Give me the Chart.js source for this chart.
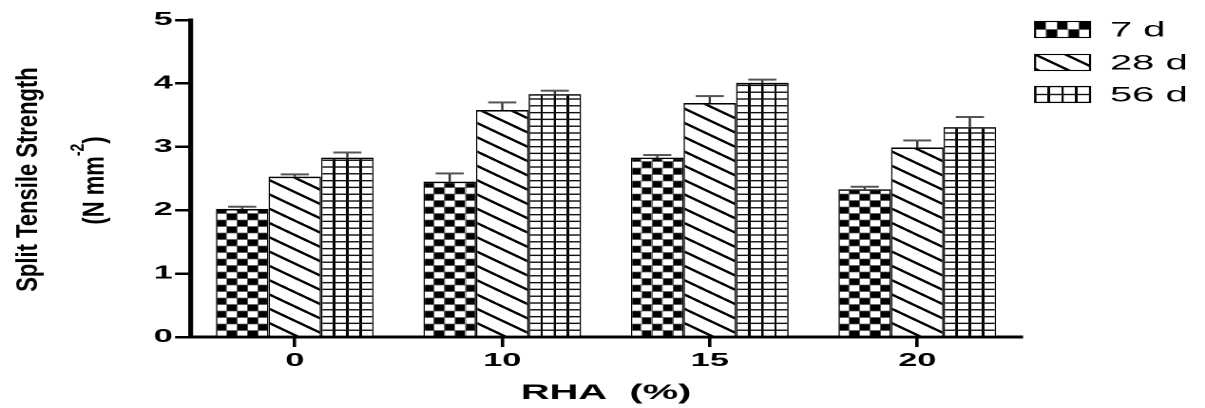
<!DOCTYPE html>
<html>
<head>
<meta charset="utf-8">
<script src="https://cdn.jsdelivr.net/npm/chart.js@4.4.1/dist/chart.umd.min.js"></script>
<style>
  html, body { margin: 0; padding: 0; background: #fff; overflow: hidden; }
  #wrap { width: 1205px; height: 408px; position: relative; overflow: hidden; }
  #c { position: absolute; left: 0; top: 0; transform-origin: 0 0; }
</style>
</head>
<body>
<div id="wrap"><canvas id="c" width="634" height="408"></canvas></div>
<script>
// ---- data ----
const categories = ['0', '10', '15', '20'];
const seriesNames = ['7 d', '28 d', '56 d'];
const values7d  = [2.02, 2.45, 2.83, 2.33];
const values28d = [2.53, 3.58, 3.69, 2.99];
const values56d = [2.83, 3.83, 4.01, 3.31];
const err7d  = [0.035, 0.13, 0.04, 0.04];
const err28d = [0.035, 0.12, 0.11, 0.11];
const err56d = [0.08, 0.055, 0.05, 0.16];
const yTicks = [0, 1, 2, 3, 4, 5];
const xTitle = 'RHA  (%)';
const yTitle = 'Split Tensile Strength';
const yUnit = '(N mm';
const yUnitExp = '-2';
const yUnitEnd = ')';

// ---- layout ----
const FONT = "'Liberation Sans', Arial, Helvetica, sans-serif";
const W = 634, H = 408;
const SX = 1205 / W;            // the drawing is widened horizontally
const CAT_PCT = 0.76;

const canvas = document.getElementById('c');
canvas.style.transform = 'scale(' + SX + ',1)';

// ---- fill patterns ----
function tileCanvas(w, h, paint) {
  const k = 4;
  const c = document.createElement('canvas');
  c.width = Math.max(1, Math.round(w * k * SX));
  c.height = Math.max(1, Math.round(h * k));
  const g = c.getContext('2d');
  g.scale(c.width / w, c.height / h);
  g.fillStyle = '#fff';
  g.fillRect(0, 0, w, h);
  paint(g, w, h);
  return c;
}
function paintCheck(g, w, h) {
  const cw = w / 2, ch = h / 2;
  g.fillStyle = '#000';
  g.fillRect(0.3, 0, cw - 0.6, ch);
  g.fillRect(cw + 0.3, ch, cw - 0.6, ch);
  g.fillStyle = '#555';
  g.fillRect(0, 0, 0.35, h);
  g.fillRect(cw - 0.175, 0, 0.35, h);
  g.fillRect(w - 0.175, 0, 0.175, h);
  g.fillRect(0, 0, w, 0.35);
  g.fillRect(0, ch - 0.35, w, 0.7);
  g.fillRect(0, h - 0.35, w, 0.35);
}
function paintHatch(g, w, h) {
  g.strokeStyle = '#000';
  g.lineWidth = 2.0;
  g.beginPath();
  [-h, 0, h].forEach(off => {
    g.moveTo(-w, off - h);
    g.lineTo(2 * w, off + 2 * h);
  });
  g.stroke();
}
function paintGrid(g, w, h) {
  const vw = 1.3, hw = 1.4;
  g.fillStyle = '#000';
  g.fillRect(0, 0, vw / 2, h);
  g.fillRect(w - vw / 2, 0, vw / 2, h);
  g.fillStyle = '#111';
  g.fillRect(0, 0, w, hw / 2);
  g.fillRect(0, h - hw / 2, w, hw / 2);
}
function makePattern(ctx, kind, barW, x0, y0, rowH) {
  let w, h, paint;
  if (kind === 'check') { w = barW / 5 * 2; h = (rowH || 6.5) * 2; paint = paintCheck; }
  else if (kind === 'hatch') { w = 16; h = 14.3; paint = paintHatch; }
  else { w = barW / 4; h = rowH || 6.8; paint = paintGrid; }
  const c = tileCanvas(w, h, paint);
  const p = ctx.createPattern(c, 'repeat');
  p.setTransform(new DOMMatrix().translate(x0, y0).scale(w / c.width, h / c.height));
  return p;
}
const kinds = ['check', 'hatch', 'grid'];

function barFill(kind) {
  return (context) => {
    const chart = context.chart;
    const xs = chart.scales.x;
    if (!xs || context.dataIndex === undefined || !chart.chartArea) return '#fff';
    const catW = xs.width / categories.length;
    const groupW = catW * CAT_PCT;
    const barW = groupW / seriesNames.length;
    const left = xs.getPixelForValue(context.dataIndex) - groupW / 2 + context.datasetIndex * barW;
    return makePattern(chart.ctx, kind, barW, left, chart.chartArea.bottom);
  };
}

// ---- error bars (upper whisker only) ----
const errorBars = {
  id: 'errorBars',
  afterDatasetsDraw(chart) {
    const ctx = chart.ctx, ys = chart.scales.y;
    ctx.save();
    chart.data.datasets.forEach((ds, d) => {
      const meta = chart.getDatasetMeta(d);
      meta.data.forEach((bar, i) => {
        const top = ys.getPixelForValue(ds.data[i] + ds.errorUp[i]);
        ctx.strokeStyle = '#333';
        ctx.lineWidth = 1.2;
        ctx.beginPath();
        ctx.moveTo(bar.x, bar.y);
        ctx.lineTo(bar.x, top);
        ctx.stroke();
        ctx.strokeStyle = '#555';
        ctx.lineWidth = 2;
        ctx.beginPath();
        ctx.moveTo(bar.x - 7.4, top);
        ctx.lineTo(bar.x + 7.4, top);
        ctx.stroke();
      });
    });
    ctx.restore();
  }
};

// ---- y axis title (two lines, superscript exponent) ----
const yTitlePlugin = {
  id: 'yTitle',
  afterDraw(chart) {
    const ctx = chart.ctx, ca = chart.chartArea;
    const cy = (ca.top + ca.bottom) / 2;
    const sx = 0.70;
    const f1 = 'bold 22px ' + FONT;
    const f2 = 'bold 14px ' + FONT;
    ctx.save();
    ctx.fillStyle = '#000';
    ctx.textBaseline = 'alphabetic';

    ctx.save();
    ctx.translate(19.6, cy + 1);
    ctx.scale(sx, 1);
    ctx.rotate(-Math.PI / 2);
    ctx.font = f1;
    ctx.textAlign = 'center';
    ctx.fillText(yTitle, 0, 0);
    ctx.restore();

    ctx.save();
    ctx.translate(54.7, cy + 2);
    ctx.scale(sx, 1);
    ctx.rotate(-Math.PI / 2);
    ctx.textAlign = 'left';
    ctx.font = f1;
    const a = ctx.measureText(yUnit).width;
    const c = ctx.measureText(yUnitEnd).width;
    ctx.font = f2;
    const b = ctx.measureText(yUnitExp).width;
    let u = -(a + b + c) / 2;
    ctx.font = f1;
    ctx.fillText(yUnit, u, 0);
    u += a;
    ctx.font = f2;
    ctx.fillText(yUnitExp, u, -15.5);
    u += b;
    ctx.font = f1;
    ctx.fillText(yUnitEnd, u, 0);
    ctx.restore();

    ctx.restore();
  }
};

// ---- legend ----
const legendPlugin = {
  id: 'patternLegend',
  afterDraw(chart) {
    const ctx = chart.ctx;
    const rows = [29.5, 62.5, 94.5];
    const bx = 544.6, bw = 28.9, bh = 16, tx = 584;
    ctx.save();
    seriesNames.forEach((name, d) => {
      const y = rows[d] - bh / 2;
      ctx.fillStyle = makePattern(ctx, kinds[d], bw, bx, y, 8);
      ctx.fillRect(bx, y, bw, bh);
      ctx.strokeStyle = '#000';
      ctx.lineWidth = 1.1;
      ctx.strokeRect(bx, y, bw, bh);
      ctx.fillStyle = '#000';
      ctx.font = '21px ' + FONT;
      ctx.textAlign = 'left';
      ctx.textBaseline = 'middle';
      ctx.fillText(name, tx, rows[d] + 1);
    });
    ctx.restore();
  }
};

const seriesValues = [values7d, values28d, values56d];
const seriesErrors = [err7d, err28d, err56d];

new Chart(canvas, {
  type: 'bar',
  data: {
    labels: categories,
    datasets: seriesNames.map((name, d) => ({
      label: name,
      data: seriesValues[d],
      errorUp: seriesErrors[d],
      backgroundColor: barFill(kinds[d]),
      borderColor: '#000',
      borderWidth: { top: 1.6, left: 0.8, right: 0.8, bottom: 0 },
      borderSkipped: false,
      categoryPercentage: CAT_PCT,
      barPercentage: 1.0
    }))
  },
  options: {
    responsive: false,
    devicePixelRatio: 2,
    animation: false,
    events: [],
    layout: { padding: { left: 0, right: W - 537.2, top: 20, bottom: 0 } },
    plugins: {
      legend: { display: false },
      tooltip: { enabled: false },
      title: { display: false }
    },
    scales: {
      x: {
        type: 'category',
        afterFit: s => { s.height = H - 337; },
        grid: {
          display: true, drawOnChartArea: false, drawTicks: true,
          tickLength: 10, lineWidth: 1.8, color: '#000', offset: false
        },
        border: { display: true, width: 3, color: '#000' },
        ticks: {
          color: '#000', padding: 3,
          font: { family: FONT, size: 18, weight: 'bold' }
        },
        title: {
          display: true, text: xTitle, color: '#000',
          font: { family: FONT, size: 21, weight: 'bold' },
          padding: { top: 0, bottom: 2.4 }
        }
      },
      y: {
        min: 0, max: 5,
        afterFit: s => { s.width = 100.5; },
        afterBuildTicks: s => { s.ticks = yTicks.map(v => ({ value: v })); },
        grid: {
          display: true, drawOnChartArea: false, drawTicks: true,
          tickLength: 8.4, lineWidth: 2.5, color: '#000'
        },
        border: { display: true, width: 2.6, color: '#000' },
        ticks: {
          color: '#000', padding: 1.2,
          font: { family: FONT, size: 18, weight: 'bold' }
        },
        title: { display: false }
      }
    }
  },
  plugins: [errorBars, yTitlePlugin, legendPlugin]
});
</script>
</body>
</html>
